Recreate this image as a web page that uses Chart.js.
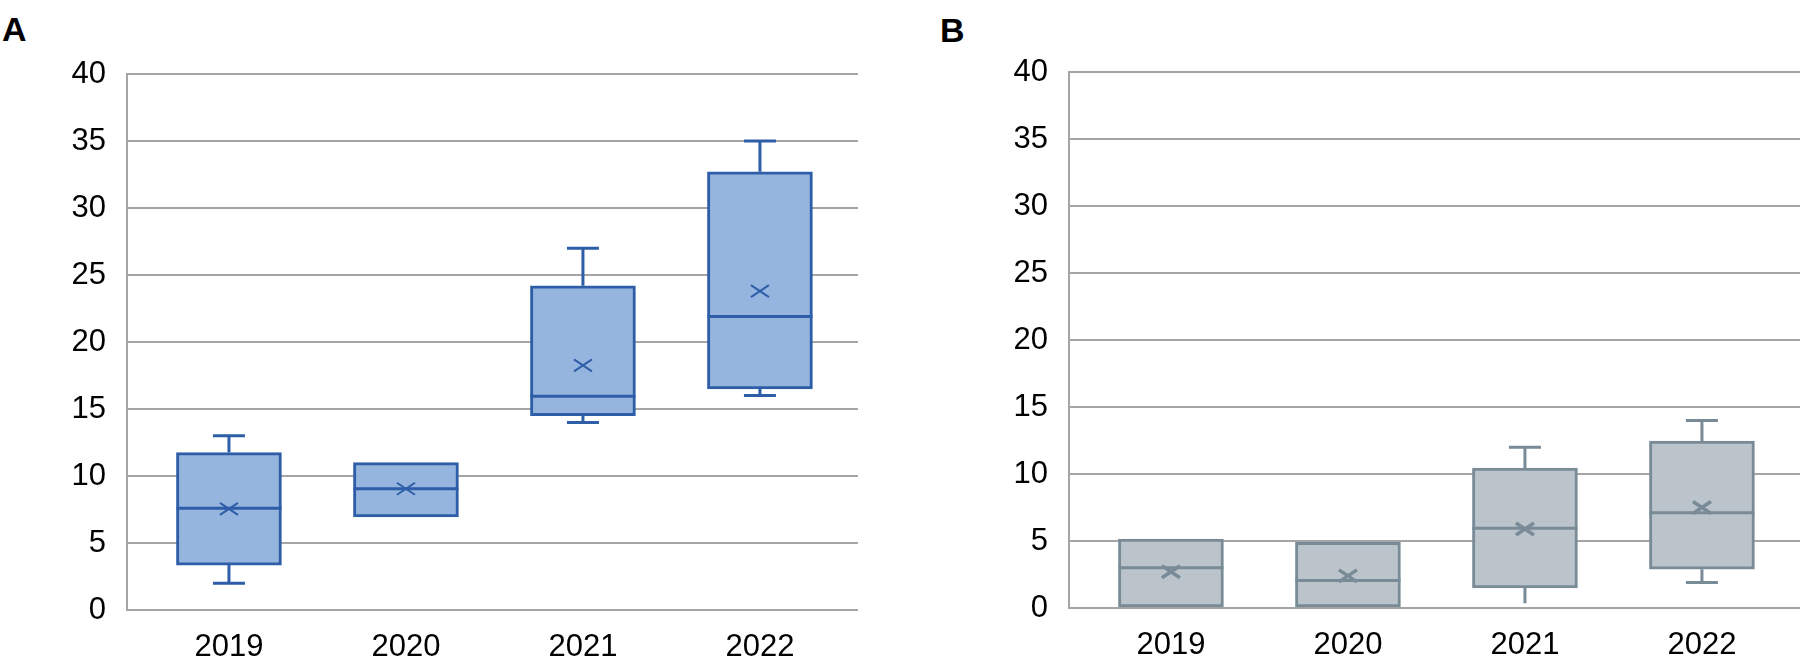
<!DOCTYPE html>
<html lang="en">
<head>
    <meta charset="UTF-8">
    <title>Box plots 2019-2022</title>
    <script src="https://cdn.jsdelivr.net/npm/chart.js"></script>
    <style>
        body {
            margin: 0;
            padding: 0;
            background: #fff;
            width: 1800px;
            height: 669px;
            position: relative;
            overflow: hidden;
        }
        .panel {
            position: absolute;
            top: 0;
            height: 669px;
        }
        .letter {
            position: absolute;
            font-family: 'Liberation Sans Narrow', 'Liberation Sans', Arial, sans-serif;
            font-weight: bold;
            font-size: 34px;
            line-height: 34px;
            color: #000;
        }
    </style>
</head>
<body>
    <div class="letter" style="left:2px; top:12px;">A</div>
    <div class="letter" style="left:940px; top:13px;">B</div>

    <div class="panel" style="left:0; width:860px;"><canvas id="chart-a"></canvas></div>
    <div class="panel" style="left:900px; width:900px;"><canvas id="chart-b"></canvas></div>

    <script>
        // categories and y ticks
        const years = ['2019', '2020', '2021', '2022'];
        const yTicks = [0, 5, 10, 15, 20, 25, 30, 35, 40];

        // panel A
        const minA = [2, 6.95, 14, 16];
        const q1A = [3.35, 6.95, 14.5, 16.5];
        const medianA = [7.6, 9.05, 15.95, 21.9];
        const q3A = [11.75, 11.0, 24.2, 32.7];
        const maxA = [13, 11.0, 27, 35];
        const meanA = [7.55, 9.05, 18.25, 23.8];

        // panel B
        const minB = [0, 0, 0.35, 1.9];
        const q1B = [0, 0, 1.5, 2.9];
        const medianB = [3.0, 2.05, 5.95, 7.1];
        const q3B = [5.15, 4.9, 10.45, 12.45];
        const maxB = [5.15, 4.9, 12, 14];
        const meanB = [2.7, 2.4, 5.9, 7.5];

        const X_MIN = -0.576, X_MAX = 3.554;

        Chart.defaults.font.family = "'Liberation Sans', Arial, sans-serif";
        Chart.defaults.font.size = 31;
        Chart.defaults.color = '#000';

        // whiskers, median and mean cross drawn on top of the boxes
        const boxMarks = {
            id: 'boxMarks',
            afterDatasetsDraw(chart, args, opts) {
                const ctx = chart.ctx;
                const y = chart.scales.y;
                const bars = chart.getDatasetMeta(0).data;
                ctx.save();
                ctx.strokeStyle = opts.color;
                ctx.lineCap = 'butt';
                bars.forEach((bar, i) => {
                    const cx = bar.x;
                    const half = bar.width / 2;
                    ctx.lineWidth = 3;
                    ctx.beginPath();
                    // upper whisker
                    if (opts.max[i] > opts.q3[i]) {
                        ctx.moveTo(cx, y.getPixelForValue(opts.q3[i]));
                        ctx.lineTo(cx, y.getPixelForValue(opts.max[i]));
                        ctx.moveTo(cx - 16, y.getPixelForValue(opts.max[i]));
                        ctx.lineTo(cx + 16, y.getPixelForValue(opts.max[i]));
                    }
                    // lower whisker
                    if (opts.min[i] < opts.q1[i]) {
                        ctx.moveTo(cx, y.getPixelForValue(opts.q1[i]));
                        ctx.lineTo(cx, y.getPixelForValue(opts.min[i]));
                        if (!opts.noLowCap.includes(i)) {
                            ctx.moveTo(cx - 16, y.getPixelForValue(opts.min[i]));
                            ctx.lineTo(cx + 16, y.getPixelForValue(opts.min[i]));
                        }
                    }
                    // median
                    const my = y.getPixelForValue(opts.median[i]);
                    ctx.moveTo(cx - half, my);
                    ctx.lineTo(cx + half, my);
                    ctx.stroke();
                    // mean cross
                    const ey = y.getPixelForValue(opts.mean[i]);
                    ctx.lineWidth = opts.crossWidth;
                    ctx.beginPath();
                    ctx.moveTo(cx - 9, ey - 6);
                    ctx.lineTo(cx + 9, ey + 6);
                    ctx.moveTo(cx - 9, ey + 6);
                    ctx.lineTo(cx + 9, ey - 6);
                    ctx.stroke();
                });
                ctx.restore();
            }
        };

        function makeChart(id, s, look) {
            return new Chart(document.getElementById(id), {
                type: 'bar',
                data: {
                    datasets: [{
                        data: years.map((_, i) => ({ x: i, y: [s.q1[i], s.q3[i]] })),
                        backgroundColor: look.fill,
                        borderColor: look.line,
                        borderWidth: 3,
                        borderSkipped: false,
                        barThickness: 105
                    }]
                },
                options: {
                    responsive: true,
                    maintainAspectRatio: false,
                    animation: false,
                    layout: { padding: { top: look.top, right: look.right, left: 0, bottom: 0 } },
                    plugins: {
                        legend: { display: false },
                        tooltip: { enabled: false },
                        boxMarks: Object.assign({ color: look.line, crossWidth: look.crossWidth, noLowCap: look.noLowCap }, s)
                    },
                    scales: {
                        x: {
                            type: 'linear',
                            offset: false,
                            bounds: 'data',
                            min: X_MIN,
                            max: X_MAX,
                            afterBuildTicks: scale => {
                                scale.ticks = years.map((_, i) => ({ value: i }));
                                scale.min = X_MIN;
                                scale.max = X_MAX;
                            },
                            afterFit: scale => { scale.height = look.xHeight; },
                            ticks: {
                                autoSkip: false,
                                maxRotation: 0,
                                padding: 19,
                                callback: v => years[v]
                            },
                            grid: { display: false, drawTicks: false, offset: false },
                            border: { display: false }
                        },
                        y: {
                            min: 0,
                            max: 40,
                            afterBuildTicks: scale => { scale.ticks = yTicks.map(v => ({ value: v })); },
                            afterFit: scale => { scale.width = look.yWidth; },
                            ticks: { padding: 21 },
                            grid: { color: '#a5a5a5', lineWidth: 2, drawTicks: false },
                            border: { display: true, color: '#a5a5a5', width: 2 }
                        }
                    }
                },
                plugins: [boxMarks]
            });
        }

        makeChart('chart-a',
            { min: minA, q1: q1A, median: medianA, q3: q3A, max: maxA, mean: meanA },
            { fill: '#95b4de', line: '#2e5ea8', crossWidth: 2, noLowCap: [], top: 74, right: 2, yWidth: 127, xHeight: 59 });

        makeChart('chart-b',
            { min: minB, q1: q1B, median: medianB, q3: q3B, max: maxB, mean: meanB },
            { fill: '#bbc4cb', line: '#798b97', crossWidth: 3.5, noLowCap: [2], top: 72, right: 0, yWidth: 169, xHeight: 61 });
    </script>
</body>
</html>
